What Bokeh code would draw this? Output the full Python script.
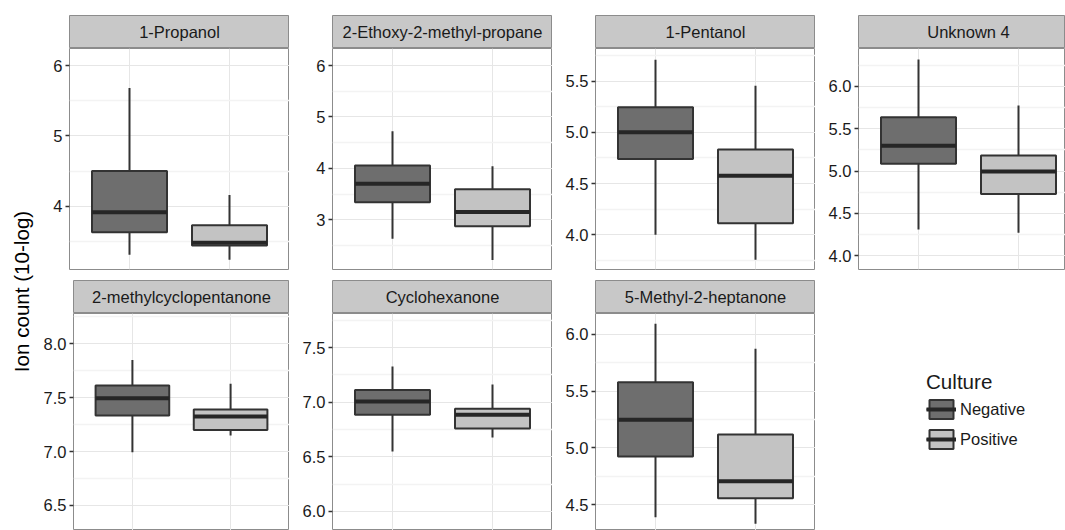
import numpy as np
from bokeh.plotting import figure
from bokeh.models import ColumnDataSource, Range1d, FixedTicker, Label, Legend, LegendItem
from bokeh.layouts import row, column
from bokeh.core.properties import value
from bokeh.embed import file_html
from bokeh.resources import INLINE

# ---------------- data ----------------
compounds = ["1-Propanol", "2-Ethoxy-2-methyl-propane", "1-Pentanol", "Unknown 4",
             "2-methylcyclopentanone", "Cyclohexanone", "5-Methyl-2-heptanone"]
cultures = ["Negative", "Positive"]

neg_lower = [3.31, 2.63, 4.00, 4.31, 6.995, 6.55, 4.39]
neg_q1 = [3.63, 3.34, 4.74, 5.086, 7.335, 6.885, 4.925]
neg_median = [3.915, 3.70, 5.00, 5.30, 7.495, 7.006, 5.248]
neg_q3 = [4.50, 4.056, 5.246, 5.637, 7.613, 7.113, 5.58]
neg_upper = [5.68, 4.72, 5.71, 6.32, 7.85, 7.327, 6.094]

pos_lower = [3.24, 2.22, 3.756, 4.27, 7.15, 6.677, 4.332]
pos_q1 = [3.44, 2.875, 4.113, 4.73, 7.20, 6.76, 4.558]
pos_median = [3.48, 3.15, 4.576, 4.995, 7.326, 6.885, 4.708]
pos_q3 = [3.73, 3.595, 4.833, 5.184, 7.39, 6.94, 5.119]
pos_upper = [4.16, 4.04, 5.455, 5.775, 7.629, 7.162, 5.874]

y_min = [3.10, 2.033, 3.661, 3.837, 6.268, 5.826, 4.273]
y_max = [6.242, 6.331, 5.819, 6.449, 8.281, 7.812, 6.185]

y_ticks = [[4, 5, 6], [3, 4, 5, 6], [4.0, 4.5, 5.0, 5.5], [4.0, 4.5, 5.0, 5.5, 6.0],
           [6.5, 7.0, 7.5, 8.0], [6.0, 6.5, 7.0, 7.5], [4.5, 5.0, 5.5, 6.0]]
y_tick_labels = [["4", "5", "6"], ["3", "4", "5", "6"], ["4.0", "4.5", "5.0", "5.5"],
                 ["4.0", "4.5", "5.0", "5.5", "6.0"], ["6.5", "7.0", "7.5", "8.0"],
                 ["6.0", "6.5", "7.0", "7.5"], ["4.5", "5.0", "5.5", "6.0"]]

y_label = "Ion count (10-log)"
legend_title = "Culture"

# ---------------- style ----------------
FONT = "Liberation Sans"
FILLS = ["#6E6E6E", "#C3C3C3"]
LINE = "#333333"
BORDER = "#8C8C8C"
STRIP_FILL = "#C8C8C8"
TEXT = "#1A1A1A"
GRID_MAJOR = "#E6E6E6"
GRID_MINOR = "#F3F3F3"
BOX_W = 0.75
TICK_FS = "16.5px"
TITLE_FS = "20.6px"
X0, X1 = 0.4, 2.6  # discrete scale with 0.6 expansion


def box_source(i):
    xs = [k + 1 for k in range(len(cultures))]
    return ColumnDataSource(dict(
        x=xs,
        culture=cultures,
        lower=[neg_lower[i], pos_lower[i]],
        q1=[neg_q1[i], pos_q1[i]],
        med=[neg_median[i], pos_median[i]],
        q3=[neg_q3[i], pos_q3[i]],
        upper=[neg_upper[i], pos_upper[i]],
        xl=[x - BOX_W / 2 for x in xs],
        xr=[x + BOX_W / 2 for x in xs],
        fill=FILLS,
    ))


def draw_boxes(p, src, visible=True):
    wh = p.segment(x0="x", y0="lower", x1="x", y1="upper", source=src,
                   line_color=LINE, line_width=2, visible=visible)
    box = p.vbar(x="x", width=BOX_W, bottom="q1", top="q3", source=src,
                 fill_color="fill", line_color=LINE, line_width=2, visible=visible)
    med = p.segment(x0="xl", y0="med", x1="xr", y1="med", source=src,
                    line_color="#262626", line_width=4, visible=visible)
    return wh, box, med


def make_panel(i, width, left, height, bottom, vis_frac=1.0):
    x_end = X0 + (X1 - X0) * vis_frac
    p = figure(width=width, height=height, min_border_left=left, min_border_right=0,
               min_border_top=0, min_border_bottom=bottom,
               x_range=Range1d(X0, x_end), y_range=Range1d(y_min[i], y_max[i]),
               x_axis_location=None, toolbar_location=None, output_backend="svg",
               background_fill_color="white", border_fill_color="white",
               outline_line_color=BORDER, outline_line_width=1)
    src = box_source(i)
    ticks = y_ticks[i]
    step = ticks[1] - ticks[0]
    minors = [t + step / 2 for t in np.arange(ticks[0] - step, ticks[-1] + step, step)]
    minors = [m for m in minors if y_min[i] <= m <= y_max[i]]
    ticker = FixedTicker(ticks=ticks, minor_ticks=minors)
    ax = p.yaxis[0]
    ax.ticker = ticker
    ax.major_label_overrides = {float(t): s for t, s in zip(ticks, y_tick_labels[i])}
    ax.axis_line_color = None
    ax.major_tick_line_color = LINE
    ax.major_tick_line_width = 1.5
    ax.major_tick_out = 4
    ax.major_tick_in = 0
    ax.minor_tick_line_color = None
    ax.major_label_standoff = 3
    ax.major_label_text_font = FONT
    ax.major_label_text_font_size = TICK_FS
    ax.major_label_text_color = TEXT
    p.ygrid.ticker = ticker
    p.ygrid.grid_line_color = GRID_MAJOR
    p.ygrid.grid_line_width = 1
    p.ygrid.minor_grid_line_color = GRID_MINOR
    p.ygrid.minor_grid_line_width = 1.5
    p.xgrid.ticker = FixedTicker(ticks=src.data["x"])
    p.xgrid.grid_line_color = GRID_MAJOR
    p.xgrid.grid_line_width = 1
    draw_boxes(p, src)
    return p, src


def make_strip(i, width, left, height, top, vis_frac=1.0):
    s = figure(width=width, height=height, min_border_left=left, min_border_right=0,
               min_border_top=top, min_border_bottom=0,
               x_range=Range1d(0, vis_frac), y_range=Range1d(0, 1),
               x_axis_location=None, y_axis_location=None, toolbar_location=None,
               output_backend="svg", background_fill_color=STRIP_FILL,
               border_fill_color="white", outline_line_color=BORDER, outline_line_width=1)
    s.grid.visible = False
    s.text(x=[0.5], y=[0.5], text=[compounds[i]], text_align="center", text_baseline="middle",
           text_font=value(FONT), text_font_size=TICK_FS, text_color=TEXT)
    return s


# y label figure
ylab = figure(width=40, height=530, min_border_left=0, min_border_right=0, min_border_top=0,
              min_border_bottom=0, x_axis_location=None, y_axis_location=None,
              toolbar_location=None, output_backend="svg", outline_line_color=None,
              x_range=Range1d(0, 1), y_range=Range1d(0, 1))
ylab.grid.visible = False
ylab.add_layout(Label(x=21, y=239, x_units="screen", y_units="screen", text=y_label,
                      angle=np.pi / 2, text_align="center", text_baseline="middle",
                      text_font=FONT, text_font_size=TITLE_FS, text_color="#000000"))

# column geometry: (width, left border)
cols = [(249, 29), (263, 43), (263, 43), (250, 43)]
vis4 = 207 / 220

top_cells = []
for c in range(4):
    w, l = cols[c]
    vf = vis4 if c == 3 else 1.0
    st = make_strip(c, w, l, 48, 15, vis_frac=vf)
    pn, _ = make_panel(c, w, l, 232, 11, vis_frac=vf)
    top_cells.append(column(st, pn, spacing=0))

bot_cells = []
legend_src = None
for c in range(3):
    i = 4 + c
    w, l = cols[c]
    st = make_strip(i, w, l, 33, 0)
    pn, src = make_panel(i, w, l, 217, 0)
    legend_src = src
    bot_cells.append(column(st, pn, spacing=0))

# legend area (bottom-right cell)
leg = figure(width=250, height=250, min_border_left=0, min_border_right=0, min_border_top=0,
             min_border_bottom=0, x_axis_location=None, y_axis_location=None,
             toolbar_location=None, output_backend="svg", outline_line_color=None,
             x_range=Range1d(X0, X1), y_range=Range1d(y_min[6], y_max[6]))
leg.grid.visible = False
vs = leg.vspan(x="x", source=legend_src, line_color=LINE, line_width=2, visible=False)
_, lbox, lmed = draw_boxes(leg, legend_src, visible=False)
items = [LegendItem(label=value(c), renderers=[vs, lbox, lmed], index=k)
         for k, c in enumerate(cultures)]
lg = Legend(items=items, location=(111, 79), title=legend_title,
            title_text_font=FONT, title_text_font_size=TITLE_FS,
            title_text_font_style="normal", title_text_color=TEXT, title_standoff=3,
            label_text_font=FONT, label_text_font_size=TICK_FS, label_text_color=TEXT,
            glyph_width=30, glyph_height=24, label_height=24, spacing=6,
            label_standoff=4, padding=0, margin=0,
            border_line_color=None, background_fill_alpha=0)
leg.add_layout(lg)
bot_cells.append(leg)

layout = row(ylab, column(row(*top_cells, spacing=0), row(*bot_cells, spacing=0), spacing=0),
             spacing=0)

open("out.html", "w").write(file_html(layout, INLINE))
